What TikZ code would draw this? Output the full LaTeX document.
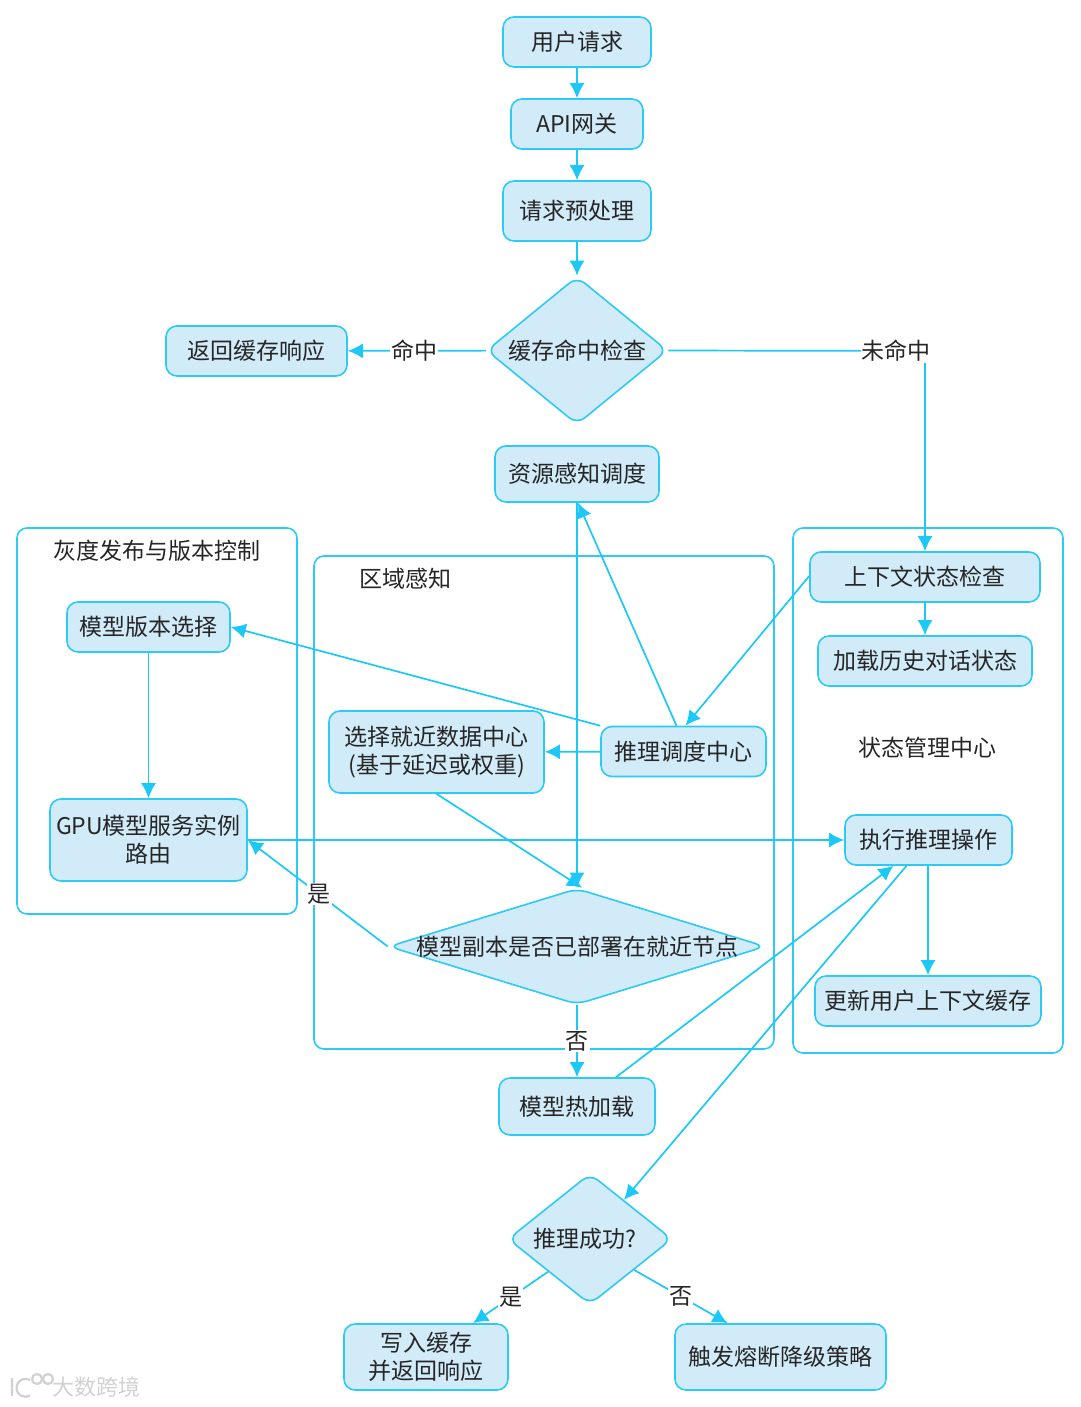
\documentclass[tikz,border=0pt]{standalone}
\usepackage{fontspec}
\setmainfont{Noto Sans CJK SC}
\usetikzlibrary{arrows.meta,shapes.geometric}
\definecolor{flowline}{HTML}{1CC8F8}
\definecolor{boxfill}{HTML}{D2EBF9}
\definecolor{boxline}{HTML}{2CCAF5}
\tikzset{
  basetext/.style={font=\fontsize{23}{28}\selectfont,text=black!85,align=center},
  procbox/.style={basetext,draw=boxline,fill=boxfill,line width=1.6pt,rounded corners=11pt,inner sep=0pt},
  decbox/.style={draw=boxline,fill=boxfill,line width=1.6pt,rounded corners=10pt,diamond,inner sep=0pt},
  groupbox/.style={draw=boxline,line width=1.6pt,rounded corners=10pt},
  flow/.style={draw=flowline,line width=1.7pt,-{Latex[length=15pt,width=15pt]}},
  edgelbl/.style={basetext,fill=white,inner xsep=1pt,inner ysep=1pt},
}
\begin{document}
\begin{tikzpicture}[x=1pt,y=-1pt]
  \useasboundingbox (0,0) rectangle (1080,1407);
  % --- Gruppen ---
  \node[groupbox,minimum width=280pt,minimum height=386pt] (grpgray) at (157,721) {};
  \node[groupbox,minimum width=460pt,minimum height=493pt] (grpzone) at (544,802.5) {};
  \node[groupbox,minimum width=270pt,minimum height=525pt] (grpstate) at (928,790.5) {};
  \node[basetext] (lblgray) at (157,551) {灰度发布与版本控制};
  \node[basetext] (lblzone) at (405,579) {区域感知};
  \node[basetext] (lblstate) at (927,748) {状态管理中心};
  % --- Hauptkette ---
  \node[procbox,minimum width=148pt,minimum height=50pt] (req) at (577,42) {用户请求};
  \node[procbox,minimum width=132pt,minimum height=50pt] (api) at (577,124) {API网关};
  \node[procbox,minimum width=148pt,minimum height=60pt] (pre) at (577,211) {请求预处理};
  \node[decbox,minimum width=181pt,minimum height=148pt,label={[basetext]center:缓存命中检查}] (cache) at (577,350.5) {};
  \node[procbox,minimum width=181pt,minimum height=50pt] (ret) at (256.5,351) {返回缓存响应};
  \node[procbox,minimum width=164pt,minimum height=56pt] (res) at (577,474) {资源感知调度};
  % --- Version ---
  \node[procbox,minimum width=163pt,minimum height=50pt] (ver) at (148.5,627) {模型版本选择};
  \node[procbox,minimum width=197pt,minimum height=82pt] (gpu) at (148.5,840) {GPU模型服务实例\\路由};
  % --- Region ---
  \node[procbox,minimum width=215pt,minimum height=82pt] (near) at (436.5,752) {选择就近数据中心\\(基于延迟或权重)};
  \node[procbox,minimum width=165pt,minimum height=50pt] (sched) at (683.5,751.5) {推理调度中心};
  \node[decbox,minimum width=377pt,minimum height=116pt,label={[basetext]center:模型副本是否已部署在就近节点}] (dia) at (577,946.5) {};
  \node[procbox,minimum width=156pt,minimum height=57pt] (hot) at (577,1106.5) {模型热加载};
  % --- Zustand ---
  \node[procbox,minimum width=230pt,minimum height=50pt] (ctx) at (925,577) {上下文状态检查};
  \node[procbox,minimum width=214pt,minimum height=50pt] (hist) at (925,661) {加载历史对话状态};
  \node[procbox,minimum width=167pt,minimum height=50pt] (exec) at (928.5,840) {执行推理操作};
  \node[procbox,minimum width=226pt,minimum height=50pt] (upd) at (928,1001) {更新用户上下文缓存};
  % --- Ergebnis ---
  \node[decbox,minimum width=164pt,minimum height=131pt,label={[basetext,xshift=-5pt]center:推理成功?}] (succ) at (590,1239) {};
  \node[procbox,minimum width=164pt,minimum height=66pt] (wrt) at (426,1357) {写入缓存\\并返回响应};
  \node[procbox,minimum width=211pt,minimum height=66pt] (fuse) at (780.5,1357) {触发熔断降级策略};
  % --- Verbindungen ---
  \draw[flow] (req) -- (api);
  \draw[flow] (api) -- (pre);
  \draw[flow] (pre) -- (cache);
  \draw[flow] (cache) -- node[edgelbl,pos=0.52] {命中} (ret);
  \draw[flow] (cache.east) -- (925,351) -- (ctx.north);
  \node[edgelbl] (lblmiss) at (896,351) {未命中};
  \draw[flow] (ctx) -- (hist);
  \draw[flow] ([yshift=1pt]ctx.west) -- ([xshift=2pt]sched.north);
  \draw[flow] ([xshift=-7pt]sched.north) -- ([xshift=1pt]res.south);
  \draw[flow] (res) -- (dia);
  \draw[flow] (sched) -- (near);
  \draw[flow] (sched.north west) -- (ver.east);
  \draw[flow] (near.south) -- ([xshift=5pt]dia.north);
  \draw[flow] (ver) -- (gpu);
  \draw[flow] (gpu.east) -- (exec.west);
  \draw[flow] (dia.west) -- node[edgelbl,pos=0.49] {是} (gpu.east);
  \draw[flow] (dia) -- node[edgelbl,pos=0.5] {否} (hot);
  \draw[flow] ([xshift=39pt]hot.north) -- ([xshift=-35pt]exec.south);
  \draw[flow] ([xshift=-22pt]exec.south) -- (succ.49);
  \draw[flow] ([xshift=-0.5pt]exec.south) -- (upd.north);
  \draw[flow] (succ.218) -- node[edgelbl,pos=0.5] {是} ([xshift=47pt]wrt.north);
  \draw[flow] (succ.-35) -- node[edgelbl,pos=0.5] {否} ([xshift=-53pt]fuse.north);
  % --- Wasserzeichen ---
  \node[font=\fontsize{22}{22}\selectfont,text=black!18] (mark) at (96,1387) {大数跨境};
  \draw[black!18,line width=2.2pt] (12,1378) -- (12,1396) (30,1380) arc (-60:-300:9) (37,1379) circle (5) (48,1379) circle (5);
\end{tikzpicture}
\end{document}
